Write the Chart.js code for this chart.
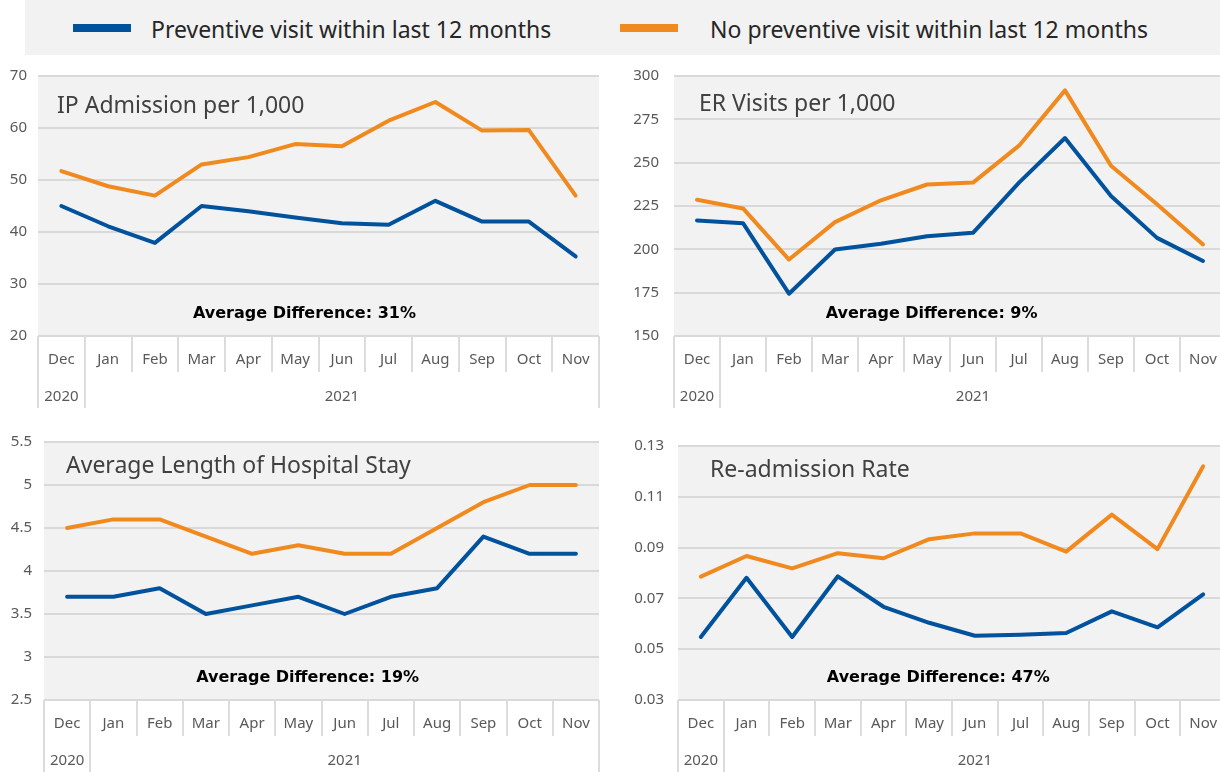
<!DOCTYPE html>
<html>
<head>
<meta charset="utf-8">
<script src="https://cdn.jsdelivr.net/npm/chart.js@4.4.0/dist/chart.umd.min.js"></script>
<style>
  html, body { margin: 0; padding: 0; background: #fff; overflow: hidden; }
  #wrap { position: relative; width: 1220px; height: 779px; overflow: hidden; }
  #legend {
    position: absolute; left: 25px; top: 0; width: 1195px; height: 55px; background: #f2f2f2;
    font-family: "Noto Sans", sans-serif; font-size: 23px; color: #262626;
  }
  .lg-item { position: absolute; top: 0; height: 58px; display: flex; align-items: center; }
  .lg-swatch { width: 58px; height: 8px; margin-top: -2px; }
  canvas { position: absolute; }
</style>
</head>
<body>
<div id="wrap">
  <div id="legend"></div>
  <canvas id="c1" width="610" height="350" style="left:0;top:60px"></canvas>
  <canvas id="c2" width="620" height="350" style="left:610px;top:60px"></canvas>
  <canvas id="c3" width="610" height="359" style="left:0;top:420px"></canvas>
  <canvas id="c4" width="620" height="359" style="left:610px;top:420px"></canvas>
</div>
<script>
/* ── Data ── */
const months = ['Dec', 'Jan', 'Feb', 'Mar', 'Apr', 'May', 'Jun', 'Jul', 'Aug', 'Sep', 'Oct', 'Nov'];
const years = [{ label: '2020', from: 0, to: 0 }, { label: '2021', from: 1, to: 11 }];
const seriesNames = ['Preventive visit within last 12 months', 'No preventive visit within last 12 months'];
const seriesColors = ['#00529c', '#f08a1e'];

const ipPrev   = [45.0, 41.1, 37.9, 45.0, 44.0, 42.8, 41.7, 41.4, 46.0, 42.0, 42.0, 35.3];
const ipNoPrev = [51.7, 48.8, 47.0, 53.0, 54.4, 56.9, 56.5, 61.4, 65.0, 59.5, 59.6, 47.0];

const erPrev   = [216.7, 215.1, 174.4, 199.9, 203.2, 207.6, 209.5, 238.5, 264.2, 230.8, 206.6, 193.3];
const erNoPrev = [228.6, 223.6, 194.1, 215.7, 228.3, 237.4, 238.5, 259.8, 291.7, 248.2, 226.0, 202.8];

const losPrev   = [3.7, 3.7, 3.8, 3.5, 3.6, 3.7, 3.5, 3.7, 3.8, 4.4, 4.2, 4.2];
const losNoPrev = [4.5, 4.6, 4.6, 4.4, 4.2, 4.3, 4.2, 4.2, 4.5, 4.8, 5.0, 5.0];

const readPrev   = [0.0548, 0.0781, 0.0548, 0.0787, 0.0667, 0.0604, 0.0553, 0.0557, 0.0564, 0.0649, 0.0586, 0.0716];
const readNoPrev = [0.0786, 0.0867, 0.0818, 0.0878, 0.0858, 0.0933, 0.0956, 0.0956, 0.0884, 0.1030, 0.0894, 0.1220];

/* ── Legend ── */
const legendEl = document.getElementById('legend');
const legendX = [48, 595];
const legendGap = [20, 32];
seriesNames.forEach((name, i) => {
  const item = document.createElement('div');
  item.className = 'lg-item';
  item.style.left = legendX[i] + 'px';
  item.innerHTML = `<span class="lg-swatch" style="background:${seriesColors[i]};margin-right:${legendGap[i]}px"></span><span>${name}</span>`;
  legendEl.appendChild(item);
});

/* ── Plugins ── */
const TABLE_LINE = '#dcdcdc';

const panelPlugin = {
  id: 'panel',
  beforeDraw(chart) {
    const { ctx, chartArea: a } = chart;
    ctx.save();
    ctx.fillStyle = '#f2f2f2';
    ctx.fillRect(a.left, a.top, a.right - a.left, a.bottom - a.top);
    ctx.restore();
  },
  afterDraw(chart, args, opts) {
    const { ctx, chartArea: a } = chart;
    const x = chart.scales.x;
    const n = months.length;
    const half = (x.getPixelForValue(1) - x.getPixelForValue(0)) / 2;

    ctx.save();
    // category table under the plot
    ctx.strokeStyle = TABLE_LINE;
    ctx.lineWidth = 2;
    for (let i = 0; i <= n; i++) {
      const px = Math.round(i < n ? x.getPixelForValue(i) - half : x.getPixelForValue(n - 1) + half);
      const long = years.some(y => y.from === i) || i === n;
      ctx.beginPath();
      ctx.moveTo(px, a.bottom);
      ctx.lineTo(px, a.bottom + (long ? 72 : 36));
      ctx.stroke();
    }
    ctx.fillStyle = '#595959';
    ctx.font = '15px "Noto Sans", sans-serif';
    ctx.textAlign = 'center';
    ctx.textBaseline = 'middle';
    months.forEach((m, i) => ctx.fillText(m, x.getPixelForValue(i), a.bottom + 24));
    years.forEach(y => {
      const cx = (x.getPixelForValue(y.from) + x.getPixelForValue(y.to)) / 2;
      ctx.fillText(y.label, cx, a.bottom + 61);
    });

    // title inside plot
    ctx.fillStyle = '#404040';
    ctx.font = '23px "Noto Sans", sans-serif';
    ctx.textAlign = 'left';
    ctx.fillText(opts.title, a.left + opts.titleDx, a.top + opts.titleDy);

    // average difference note
    ctx.fillStyle = '#000';
    ctx.font = 'bold 16px "DejaVu Sans", sans-serif';
    ctx.textAlign = 'center';
    ctx.fillText(opts.note, x.getPixelForValue(opts.noteAt), a.bottom - 22);
    ctx.restore();
  }
};

function makeChart(id, cfg) {
  return new Chart(document.getElementById(id), {
    type: 'line',
    data: {
      labels: months,
      datasets: [
        { label: seriesNames[0], data: cfg.prev, borderColor: seriesColors[0] },
        { label: seriesNames[1], data: cfg.noPrev, borderColor: seriesColors[1] },
      ].map(ds => Object.assign({
        borderWidth: 4,
        pointRadius: 0,
        tension: 0,
        fill: false,
        borderCapStyle: 'round',
        borderJoinStyle: 'round',
      }, ds)),
    },
    options: {
      responsive: false,
      animation: false,
      events: [],
      layout: { padding: cfg.padding },
      plugins: {
        legend: { display: false },
        tooltip: { enabled: false },
        panel: { title: cfg.title, titleDx: cfg.titleDx, titleDy: cfg.titleDy, note: cfg.note, noteAt: cfg.noteAt },
      },
      scales: {
        x: { display: false, offset: true },
        y: {
          min: cfg.min,
          max: cfg.max,
          afterFit: s => { s.width = cfg.axisW; s.paddingTop = 0; s.paddingBottom = 0; },
          border: { display: false },
          grid: { color: '#d9d9d9', lineWidth: 2, drawTicks: false },
          ticks: {
            stepSize: cfg.step,
            color: '#595959',
            padding: cfg.tickPad,
            font: { family: '"Noto Sans", sans-serif', size: 15 },
            callback: cfg.fmt || (v => v),
          },
        },
      },
    },
    plugins: [panelPlugin],
  });
}

makeChart('c1', {
  prev: ipPrev, noPrev: ipNoPrev, min: 20, max: 70, step: 10,
  padding: { top: 16, bottom: 74, left: 0, right: 11 }, axisW: 38, tickPad: 11,
  title: 'IP Admission per 1,000', titleDx: 19, titleDy: 30,
  note: 'Average Difference: 31%', noteAt: 5.2,
});

makeChart('c2', {
  prev: erPrev, noPrev: erNoPrev, min: 150, max: 300, step: 25,
  padding: { top: 16, bottom: 74, left: 0, right: 4 }, axisW: 64, tickPad: 15,
  title: 'ER Visits per 1,000', titleDx: 25, titleDy: 28,
  note: 'Average Difference: 9%', noteAt: 5.1,
});

makeChart('c3', {
  prev: losPrev, noPrev: losNoPrev, min: 2.5, max: 5.5, step: 0.5,
  padding: { top: 22, bottom: 79, left: 0, right: 11 }, axisW: 44, tickPad: 12,
  title: 'Average Length of Hospital Stay', titleDx: 22, titleDy: 24,
  note: 'Average Difference: 19%', noteAt: 5.2,
});

makeChart('c4', {
  prev: readPrev, noPrev: readNoPrev, min: 0.03, max: 0.13, step: 0.02,
  padding: { top: 26, bottom: 79, left: 0, right: 4 }, axisW: 68, tickPad: 14,
  title: 'Re-admission Rate', titleDx: 32, titleDy: 24,
  note: 'Average Difference: 47%', noteAt: 5.2,
  fmt: v => v.toFixed(2),
});
</script>
</body>
</html>
